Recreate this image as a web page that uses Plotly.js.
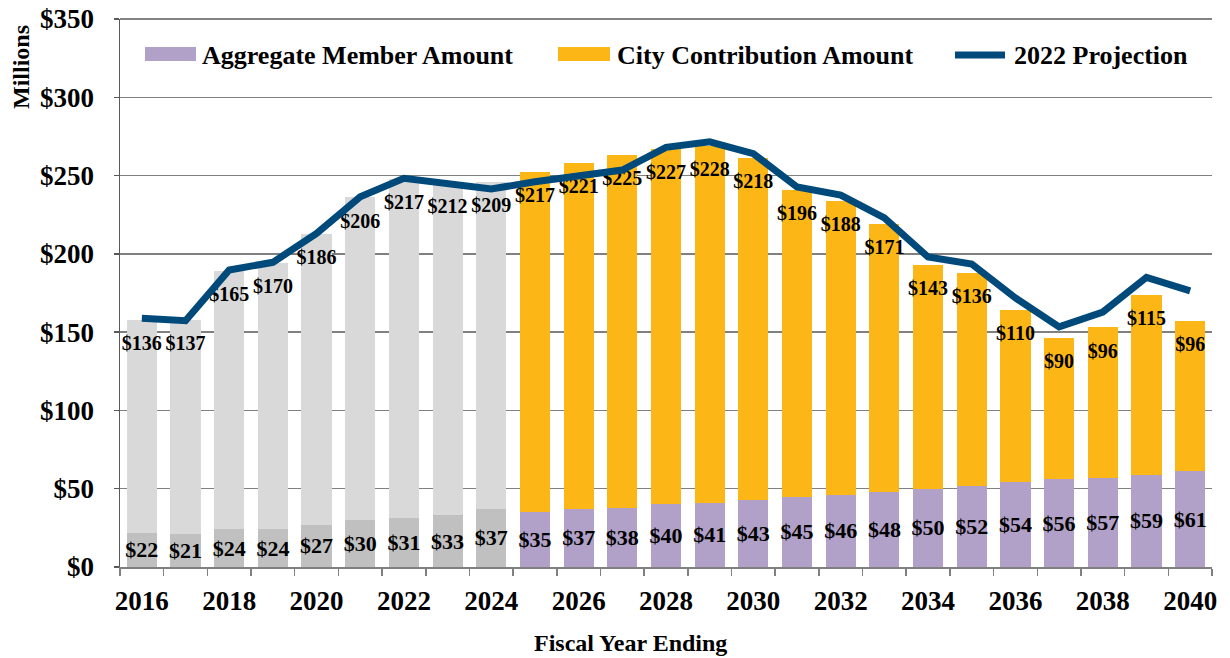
<!DOCTYPE html>
<html>
<head>
<meta charset="utf-8">
<script src="https://cdn.plot.ly/plotly-3.0.1.min.js"></script>
<style>
  html, body { margin: 0; padding: 0; background: #fff; }
  #chart { width: 1230px; height: 658px; }
</style>
</head>
<body>
<div id="chart"></div>
<script>
const years = [2016, 2017, 2018, 2019, 2020, 2021, 2022, 2023, 2024, 2025, 2026, 2027, 2028,
               2029, 2030, 2031, 2032, 2033, 2034, 2035, 2036, 2037, 2038, 2039, 2040];
const memberAmount = [22, 21, 24, 24, 27, 30, 31, 33, 37, 35, 37, 38, 40,
                      41, 43, 45, 46, 48, 50, 52, 54, 56, 57, 59, 61];
const cityAmount = [136, 137, 165, 170, 186, 206, 217, 212, 209, 217, 221, 225, 227,
                    228, 218, 196, 188, 171, 143, 136, 110, 90, 96, 115, 96];
const projection2022 = [158.8, 157.3, 189.7, 194.6, 213, 236.5, 248.2, 245, 241.5, 246, 249.7, 253.5, 268,
                        271.6, 264, 242.7, 237.5, 223, 198, 193.5, 171.8, 153.4, 162.8, 185, 176.4];
const xTickYears = [2016, 2018, 2020, 2022, 2024, 2026, 2028, 2030, 2032, 2034, 2036, 2038, 2040];
const lastActualYear = 2024;

const FONT = '"Liberation Serif", "Times New Roman", Times, serif';
const C_MEMBER = '#b1a0c7', C_CITY = '#fcb716', C_MEMBER_H = '#c0c0c0', C_CITY_H = '#d9d9d9';
const C_LINE = '#00497b';

const isHist = years.map(y => y <= lastActualYear);
const totals = years.map((y, i) => memberAmount[i] + cityAmount[i]);

const traces = [
  {
    type: 'bar', x: years, y: memberAmount, name: 'Aggregate Member Amount',
    marker: { color: isHist.map(h => h ? C_MEMBER_H : C_MEMBER) },
    hoverinfo: 'x+y', showlegend: false
  },
  {
    type: 'bar', x: years, y: cityAmount, name: 'City Contribution Amount',
    marker: { color: isHist.map(h => h ? C_CITY_H : C_CITY) },
    hoverinfo: 'x+y', showlegend: false
  },
  {
    type: 'scatter', mode: 'text', x: years, y: memberAmount.map(v => v / 2 - 1.2),
    text: memberAmount.map(v => '$' + v), textposition: 'middle center',
    textfont: { family: FONT, size: 22, color: '#000', weight: 'bold' },
    hoverinfo: 'skip', showlegend: false
  },
  {
    type: 'scatter', mode: 'text', x: years, y: totals.map(v => v - 16),
    text: cityAmount.map(v => '$' + v), textposition: 'middle center',
    textfont: { family: FONT, size: 20, color: '#000', weight: 'bold' },
    hoverinfo: 'skip', showlegend: false
  },
  {
    type: 'scatter', mode: 'lines', x: years, y: projection2022, name: '2022 Projection',
    line: { color: C_LINE, width: 7 }, showlegend: false
  }
];

// manual legend (paper coordinates)
const px = v => (v - 120) / 1092;
const py = v => (567 - v) / 548;
const legendFont = { family: FONT, size: 26, color: '#000', weight: 'bold' };

const layout = {
  width: 1230, height: 658,
  margin: { l: 120, r: 18, t: 19, b: 91 },
  paper_bgcolor: '#fff', plot_bgcolor: '#fff',
  barmode: 'stack', bargap: 0.31,
  showlegend: false,
  font: { family: FONT, color: '#000' },
  xaxis: {
    type: 'linear', range: [2015.5, 2040.5],
    tickvals: xTickYears, ticktext: xTickYears.map(String),
    ticks: '', showgrid: false, zeroline: false,
    tickfont: { family: FONT, size: 27, color: '#000', weight: 'bold' },
    ticklabelstandoff: 9,
    showline: true, linecolor: '#808080', linewidth: 1.5,
    minor: {
      tickvals: years.map(y => y - 0.5).concat([2040.5]),
      ticks: 'outside', ticklen: 7, tickwidth: 1.5, tickcolor: '#808080', showgrid: false
    },
    fixedrange: true
  },
  yaxis: {
    range: [0, 350], dtick: 50, tick0: 0, tickprefix: '$',
    ticks: 'outside', ticklen: 5, tickwidth: 1.5, tickcolor: '#595959',
    tickfont: { family: FONT, size: 27, color: '#000', weight: 'bold' },
    ticklabelstandoff: 14,
    showgrid: true, gridcolor: '#808080', gridwidth: 1.5,
    zeroline: false,
    showline: true, linecolor: '#595959', linewidth: 1.5,
    fixedrange: true
  },
  shapes: [
    { type: 'line', xref: 'paper', yref: 'paper', x0: 0, x1: 1, y0: 1, y1: 1,
      line: { color: '#595959', width: 1.5 } },
    { type: 'rect', xref: 'paper', yref: 'paper', x0: px(145), x1: px(196), y0: py(61), y1: py(47),
      fillcolor: C_MEMBER, line: { width: 0 } },
    { type: 'rect', xref: 'paper', yref: 'paper', x0: px(558), x1: px(610), y0: py(61), y1: py(47),
      fillcolor: C_CITY, line: { width: 0 } },
    { type: 'line', xref: 'paper', yref: 'paper', x0: px(955), x1: px(1005), y0: py(55), y1: py(55),
      line: { color: C_LINE, width: 7 } }
  ],
  annotations: [
    { xref: 'paper', yref: 'paper', x: px(200), y: py(55), xanchor: 'left', yanchor: 'middle',
      text: 'Aggregate Member Amount', showarrow: false, font: legendFont },
    { xref: 'paper', yref: 'paper', x: px(615), y: py(55), xanchor: 'left', yanchor: 'middle',
      text: 'City Contribution Amount', showarrow: false, font: legendFont },
    { xref: 'paper', yref: 'paper', x: px(1012), y: py(55), xanchor: 'left', yanchor: 'middle',
      text: '2022 Projection', showarrow: false, font: legendFont },
    { xref: 'paper', yref: 'paper', x: px(21), y: py(67), xanchor: 'center', yanchor: 'middle',
      text: 'Millions', textangle: -90, showarrow: false,
      font: { family: FONT, size: 24, color: '#000', weight: 'bold' } },
    { xref: 'paper', yref: 'paper', x: px(630), y: py(643), xanchor: 'center', yanchor: 'middle',
      text: 'Fiscal Year Ending', showarrow: false,
      font: { family: FONT, size: 24, color: '#000', weight: 'bold' } }
  ]
};

Plotly.newPlot('chart', traces, layout, { displayModeBar: false, staticPlot: true });
</script>
</body>
</html>
